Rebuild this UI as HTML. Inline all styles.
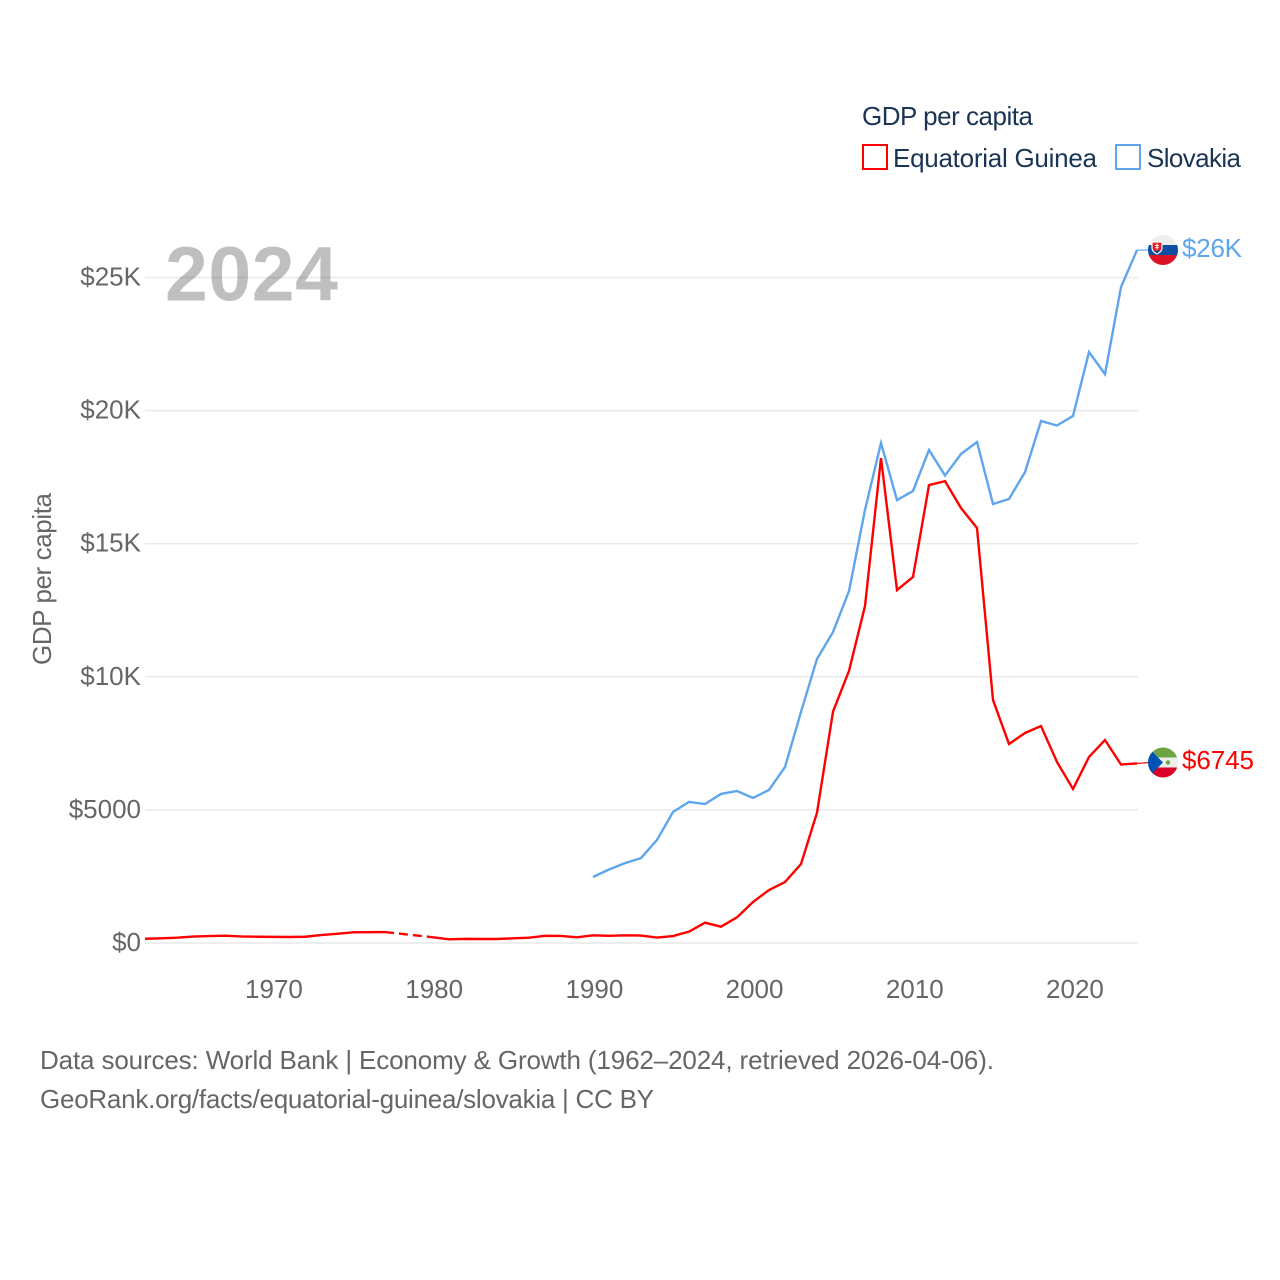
<!DOCTYPE html>
<html lang="en">
<head>
<meta charset="utf-8">
<title>GDP per capita: Equatorial Guinea and Slovakia</title>
<style>
html,body{margin:0;padding:0;background:#fff;}
svg{display:block;}
text{font-family:"Liberation Sans",sans-serif;}
.tick{font-size:26px;fill:#666;}
.legend{font-size:26px;fill:#1a3454;}
.foot{font-size:26px;fill:#666;}
</style>
</head>
<body>
<svg id="chart" width="1280" height="1280" viewBox="0 0 1280 1280" xmlns="http://www.w3.org/2000/svg">
  <defs>
    <clipPath id="flag-clip-sk"><circle cx="1163" cy="250" r="15"/></clipPath>
    <clipPath id="flag-clip-gq"><circle cx="1163" cy="762.5" r="15"/></clipPath>
  </defs>
  <g id="grid"></g>
  <g id="yaxis"></g>
  <g id="xaxis"></g>
  <text class="tick" transform="translate(51,579) rotate(-90)" text-anchor="middle" textLength="172">GDP per capita</text>
  <text x="165" y="300.500" font-size="77" font-weight="700" fill="#000" fill-opacity="0.25" textLength="173">2024</text>

  <g id="series"></g>

  <g clip-path="url(#flag-clip-sk)">
    <rect x="1148" y="235" width="30" height="10" fill="#eeeeee"/>
    <rect x="1148" y="245" width="30" height="10" fill="#0b4ea2"/>
    <rect x="1148" y="255" width="30" height="10" fill="#dc1126"/>
    <path d="M1152 242h10v6c0 3-3 5-5 6c-2-1-5-3-5-6z" fill="#ee1c25" stroke="#fff" stroke-width="1.2"/>
    <path d="M1157 243.5v6M1155 245.5h4M1155.4 247.5h3.2" stroke="#fff" stroke-width="1" fill="none"/>
    <path d="M1153.5 250.5h7l-3.500 3z" fill="#0b4ea2"/>
  </g>
  <g clip-path="url(#flag-clip-gq)">
    <rect x="1148" y="747.5" width="30" height="10" fill="#6da544"/>
    <rect x="1148" y="757.5" width="30" height="10" fill="#eeeeee"/>
    <rect x="1148" y="767.5" width="30" height="10" fill="#d80027"/>
    <path d="M1148 747.5L1163 762.5L1148 777.5z" fill="#0052b4"/>
    <circle cx="1168" cy="762.5" r="2.2" fill="#6da544"/>
  </g>
  <text id="end-sk" x="1182" y="257" font-size="26" fill="#5ea5ee" textLength="60">$26K</text>
  <text id="end-gq" x="1182" y="769" font-size="26" fill="#ff0000" textLength="72">$6745</text>

  <g>
    <text class="legend" x="862" y="125" textLength="171">GDP per capita</text>
    <rect x="863" y="145" width="24" height="24" fill="none" stroke="#ff0000" stroke-width="2"/>
    <text class="legend" x="893" y="167" textLength="204">Equatorial Guinea</text>
    <rect x="1116" y="145" width="24" height="24" fill="none" stroke="#5ea5ee" stroke-width="2"/>
    <text class="legend" x="1147" y="167" textLength="94">Slovakia</text>
  </g>

  <text class="foot" x="40" y="1069" textLength="954">Data sources: World Bank | Economy &amp; Growth (1962–2024, retrieved 2026-04-06).</text>
  <text class="foot" x="40" y="1108" textLength="614">GeoRank.org/facts/equatorial-guinea/slovakia | CC BY</text>
</svg>
<script>
const firstYear = 1962;
const yTickValues = [0, 5000, 10000, 15000, 20000, 25000];
const yTickLabels = ["$0", "$5000", "$10K", "$15K", "$20K", "$25K"];
const xTickValues = [1970, 1980, 1990, 2000, 2010, 2020];
const guineaValues = [
  160,175,200,240,260,275,245,235,230,225,235,300,345,400,405,410,null,null,
  215,140,155,150,150,175,200,270,265,215,290,270,290,280,205,260,425,762,
  612,965,1540,1990,2290,2968,4895,8690,10220,12660,18220,13260,13750,17200,17350,16340,15590,
  9130,7475,7890,8150,6800,5785,6990,7625,6705,6745
];
const slovakiaValues = [
  null,null,null,null,null,null,null,null,null,null,null,null,null,null,
  null,null,null,null,null,null,null,null,null,null,null,null,null,null,
  2480,2760,3000,3190,3870,4920,5300,5220,5600,5710,5450,5750,6610,8680,10670,11680,13220,16270,
  18780,16640,16980,18520,17560,18370,18820,16490,16680,17690,19610,19440,19800,22200,21370,24640,26030
];

const NS = "http://www.w3.org/2000/svg";
function xScale(year){ return 145 + (year - firstYear) * 16; }
function xLabelScale(year){ return 145.8 + (year - firstYear) * 16.02; }
function yScale(v){ return 943 - v * 0.02662; }

const gridG = document.getElementById("grid");
const yG = document.getElementById("yaxis");
const xG = document.getElementById("xaxis");
const seriesG = document.getElementById("series");

yTickValues.forEach(function(v, i){
  const line = document.createElementNS(NS, "line");
  line.setAttribute("x1", 145);
  line.setAttribute("x2", 1138);
  line.setAttribute("y1", yScale(v));
  line.setAttribute("y2", yScale(v));
  line.setAttribute("stroke", "#e9e9e9");
  line.setAttribute("stroke-width", "1.5");
  
  
  gridG.appendChild(line);

  const t = document.createElementNS(NS, "text");
  t.setAttribute("x", 141);
  t.setAttribute("y", yScale(v) + 8);
  t.setAttribute("text-anchor", "end");
  t.setAttribute("class", "tick");
  t.textContent = yTickLabels[i];
  
  
  yG.appendChild(t);
});

xTickValues.forEach(function(year){
  const t = document.createElementNS(NS, "text");
  t.setAttribute("x", xLabelScale(year));
  t.setAttribute("y", 998);
  t.setAttribute("text-anchor", "middle");
  t.setAttribute("class", "tick");
  t.textContent = String(year);
  
  
  xG.appendChild(t);
});

function drawSeries(values, color, name, connectorEndY){
  let seg = [];
  let lastPoint = null;
  function flush(){
    if (seg.length > 1) {
      const p = document.createElementNS(NS, "polyline");
      p.setAttribute("points", seg.map(function(q){ return q.join(","); }).join(" "));
      p.setAttribute("fill", "none");
      p.setAttribute("stroke", color);
      p.setAttribute("stroke-width", "2.4");
      p.setAttribute("stroke-linejoin", "miter");
      
      
      seriesG.appendChild(p);
    }
    seg = [];
  }
  values.forEach(function(v, i){
    if (v === null) { flush(); return; }
    const pt = [xScale(firstYear + i), yScale(v)];
    if (seg.length === 0 && lastPoint) {
      const d = document.createElementNS(NS, "line");
      d.setAttribute("x1", lastPoint[0]);
      d.setAttribute("y1", lastPoint[1]);
      d.setAttribute("x2", pt[0]);
      d.setAttribute("y2", pt[1]);
      d.setAttribute("stroke", color);
      d.setAttribute("stroke-width", "2.4");
      d.setAttribute("stroke-dasharray", "9 5");
      
      
      seriesG.appendChild(d);
    }
    seg.push(pt);
    lastPoint = pt;
  });
  flush();
  const c = document.createElementNS(NS, "line");
  c.setAttribute("x1", lastPoint[0]);
  c.setAttribute("y1", lastPoint[1]);
  c.setAttribute("x2", 1150);
  c.setAttribute("y2", connectorEndY);
  c.setAttribute("stroke", color);
  c.setAttribute("stroke-width", "1.2");
  
  
  seriesG.appendChild(c);
}

drawSeries(guineaValues, "#ff0000", "equatorial-guinea", 762.5);
drawSeries(slovakiaValues, "#5ea5ee", "slovakia", 250);
</script>
</body>
</html>
